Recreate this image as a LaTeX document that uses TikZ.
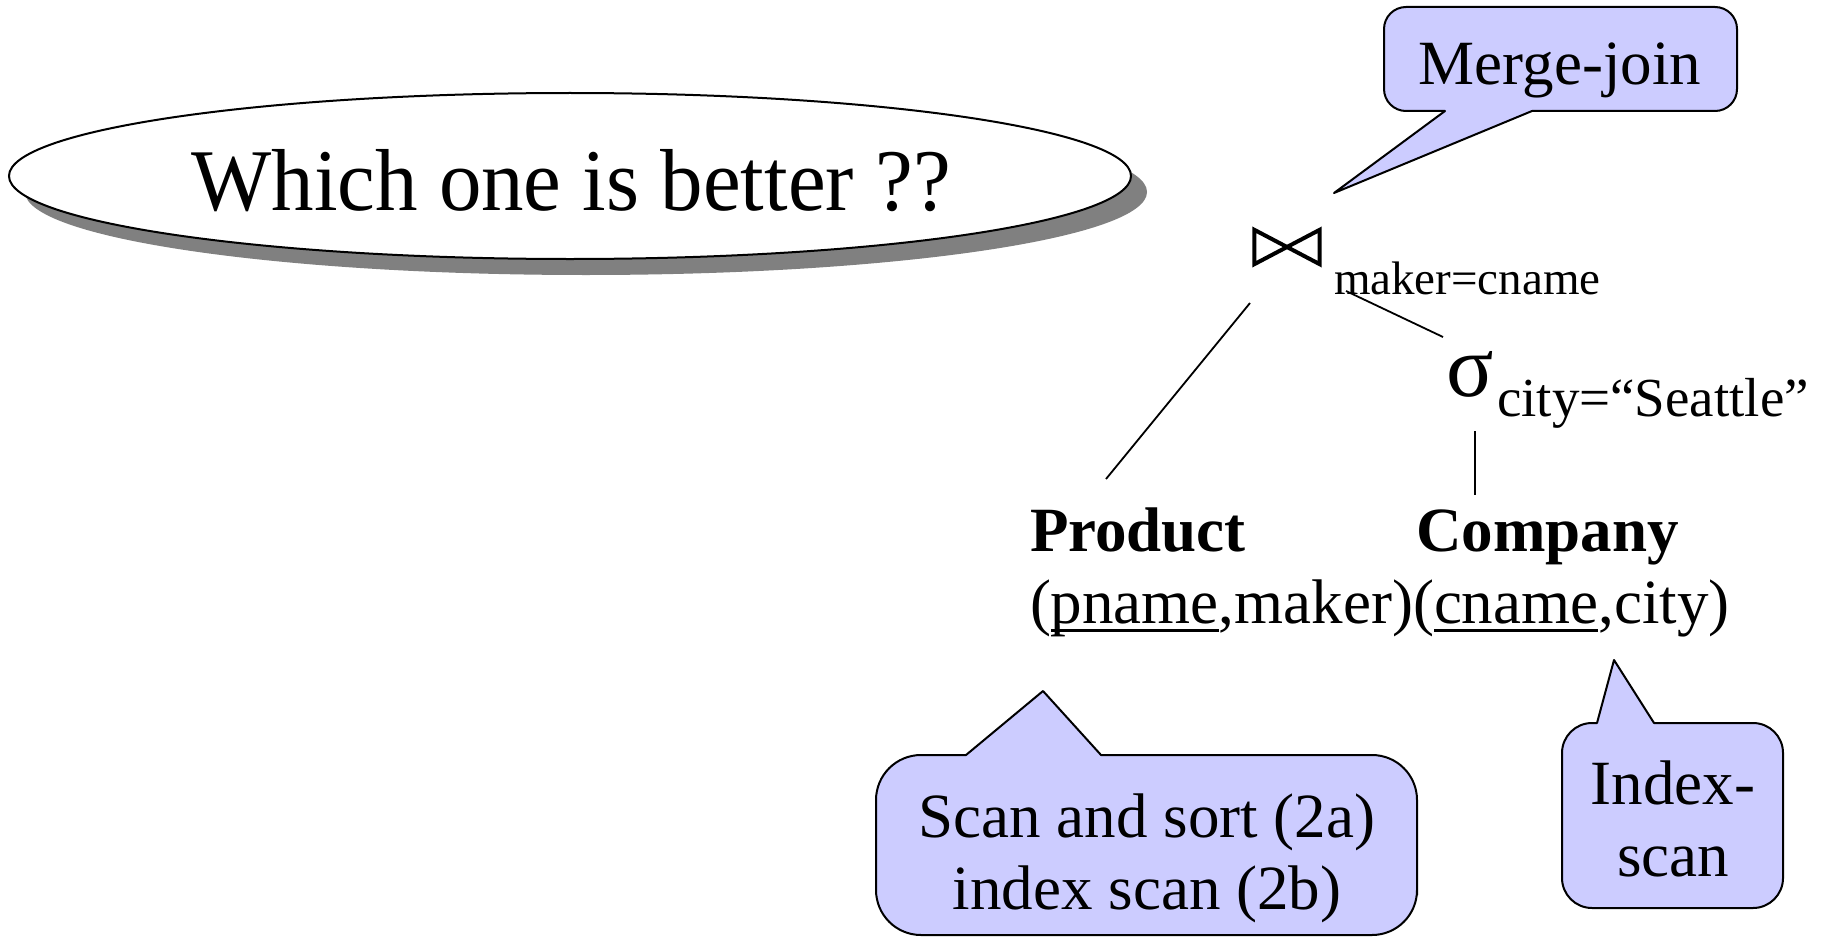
\documentclass[tikz,border=0pt]{standalone}
\usepackage{fontspec}
\setmainfont{Liberation Serif}
\usetikzlibrary{shapes.geometric,shadows}
\definecolor{calloutfill}{HTML}{CCCCFF}
\definecolor{shadowgray}{HTML}{808080}
% key attribute: rule at a fixed depth below the baseline
\newcommand\keyul[1]{\setbox0\hbox{#1}\rlap{\rule[-0.14em]{\wd0}{0.05em}}\box0}
\newcommand\fs[1]{\fontsize{#1}{#1}\selectfont}
\begin{document}
\begin{tikzpicture}[x=1pt,y=-1pt,
  txt/.style={inner sep=0pt, outer sep=0pt, anchor=base},
  lbl/.style={txt, font=\fs{63}},
  callout/.style={draw=black, line width=2pt, fill=calloutfill, line join=round},
  edge/.style={draw=black, line width=1.8pt},
  bowtie/.style={draw=black, line width=4pt, line join=miter},
]
\useasboundingbox (0,0) rectangle (1827,939);

% question oval with its shadow
\node[ellipse, draw=black, line width=2pt, fill=white, minimum width=1122pt, minimum height=166pt, inner sep=0pt,
      drop shadow={shadow xshift=16pt, shadow yshift=-16pt, fill=shadowgray, opacity=1}] (oval) at (570,176) {};
\node[txt, font=\fs{88}] (question) at (571,210) {\scalebox{0.965}[1]{Which one is better ??}};

% callouts: rounded body, sharp pointer
\draw[callout] (1737,60) [rounded corners=22pt] -- (1737,111) [sharp corners] -- (1532,111) -- (1334,193)
  -- (1445,111) [rounded corners=22pt] -- (1384,111) -- (1384,7) -- (1737,7) -- cycle;
\node[lbl] (mj) at (1560,85) {Merge-join};

\draw[callout] (1417,850) [rounded corners=45pt] -- (1417,935) -- (876,935) -- (876,755) [sharp corners] -- (966,755)
  -- (1043,691) -- (1101,755) [rounded corners=45pt] -- (1417,755) -- cycle;
\node[lbl] (scan1) at (1147,837) {Scan and sort (2a)};
\node[lbl] (scan2) at (1147,909) {index scan (2b)};

\draw[callout] (1783,800) [rounded corners=30pt] -- (1783,908) -- (1562,908) -- (1562,723) [sharp corners] -- (1597,723)
  -- (1614,660) -- (1654,723) [rounded corners=30pt] -- (1783,723) -- cycle;
\node[lbl] (idx1) at (1673,804) {Index-};
\node[lbl] (idx2) at (1673,876) {scan};

% plan tree
\node[minimum width=65pt, minimum height=34pt, inner sep=0pt] (join) at (1287,247) {};
\draw[bowtie] (join.north west) -- (join.south west) -- (join.north east) -- (join.south east) -- cycle;
\node[txt, anchor=base west, font=\fs{47}] (jcond) at (1334,294) {maker=cname};

\node[txt, anchor=base west, font=\fs{88}] (sigma) at (1446,396) {σ};
\node[txt, anchor=base west, font=\fs{55}] (scond) at (1497,416) {city=“Seattle”};

\node[lbl, anchor=base west] (product) at (1030,551) {\textbf{Product}};
\node[lbl, anchor=base west] (pattrs) at (1030,623) {(\keyul{pname},maker)};
\node[lbl, anchor=base west] (company) at (1416,551) {\textbf{Company}};
\node[lbl, anchor=base west] (cattrs) at (1413,623) {(\keyul{cname},city)};

\coordinate (jp1) at (1250,303);
\coordinate (jp2) at (1106,479);
\coordinate (js1) at (1346,291);
\coordinate (js2) at (1443,337);
\coordinate (sc1) at (1475,431);
\coordinate (sc2) at (1475,495);
\draw[edge] (jp1) -- (jp2);
\draw[edge] (js1) -- (js2);
\draw[edge] (sc1) -- (sc2);
\end{tikzpicture}
\end{document}
